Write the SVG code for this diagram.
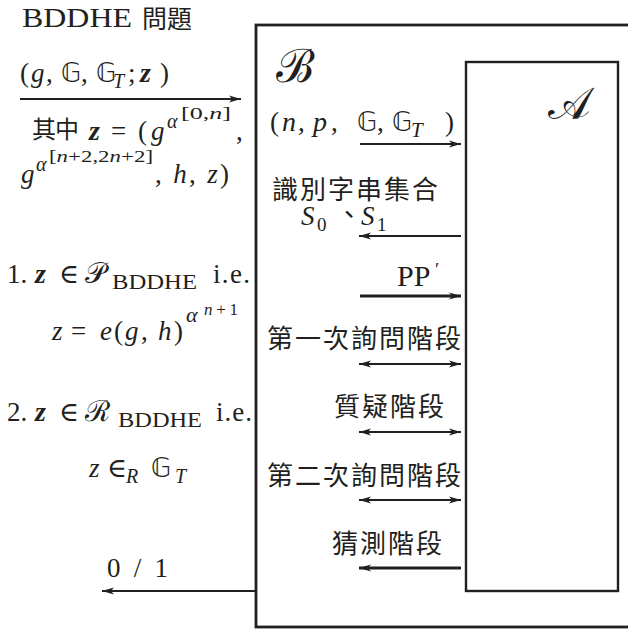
<svg xmlns="http://www.w3.org/2000/svg" width="628" height="633" viewBox="0 0 628 633">
<style>
.m{font-family:"Liberation Serif","DejaVu Serif",serif;font-size:27px;fill:#231f20}
.i{font-style:italic}
.b{font-weight:bold}
.cj{font-family:"Noto Sans CJK TC","Noto Sans CJK SC",sans-serif;font-size:26px;fill:#231f20;letter-spacing:2px}
.ds{font-family:"DejaVu Sans",sans-serif;font-size:26px;fill:#231f20}
.box{fill:none;stroke:#231f20}
.c{stroke:#231f20;stroke-width:2;fill:none}
.c3{stroke:#231f20;stroke-width:3;fill:none}
</style>
<defs>
<marker id="ah" markerUnits="userSpaceOnUse" markerWidth="13" markerHeight="8" refX="12" refY="4" orient="auto-start-reverse">
<path d="M0,0.5 L12,4 L0,7.5 L3,4 z" fill="#231f20"/>
</marker>
</defs>
<rect width="628" height="633" fill="#fff"/>

<g id="B">
<rect class="box" x="256" y="25" width="430" height="602" stroke-width="2.8"/>
<text class="m" x="276" y="82" style="font-size:46px">ℬ</text>
</g>
<g id="A">
<rect class="box" x="466" y="62" width="152" height="529" stroke-width="2.4"/>
<text class="m" x="548" y="119" style="font-size:45px">𝒜</text>
</g>

<g id="problem">
<text class="m" x="22" y="27" style="font-size:28px" textLength="110" lengthAdjust="spacingAndGlyphs">BDDHE</text>
<text class="cj" x="142" y="28" style="font-size:25px;letter-spacing:0">問題</text>

<text class="m" x="20" y="82">(</text>
<text class="m i" x="31" y="82">g</text>
<text class="m" x="46" y="82">,</text>
<text class="ds" x="61" y="82">𝔾</text>
<text class="m" x="81" y="82">,</text>
<text class="ds" x="96" y="82">𝔾</text>
<text class="m i" x="113" y="88" style="font-size:20px">T</text>
<text class="m" x="128" y="82">;</text>
<text class="m i b" x="140" y="82" style="font-size:28px">z</text>
<text class="m" x="160" y="82">)</text>

<text class="cj" x="32" y="138" style="font-size:24px;letter-spacing:-1px">其中</text>
<text class="m i b" x="89" y="140" style="font-size:28px">z</text>
<text class="m" x="111" y="140">=</text>
<text class="m" x="138" y="140">(</text>
<text class="m i" x="151" y="140">g</text>
<text class="m i" x="167" y="128" style="font-size:20px">α</text>
<text class="m" x="181" y="119" style="font-size:17px" textLength="50" lengthAdjust="spacingAndGlyphs">[0,<tspan class="i">n</tspan>]</text>
<text class="m" x="236" y="140">,</text>

<text class="m i" x="21" y="183">g</text>
<text class="m i" x="36" y="171" style="font-size:20px">α</text>
<text class="m" x="49" y="162" style="font-size:17px" textLength="104" lengthAdjust="spacingAndGlyphs">[<tspan class="i">n</tspan>+2,2<tspan class="i">n</tspan>+2]</text>
<text class="m" x="155" y="183" textLength="74" lengthAdjust="spacing">, <tspan class="i">h</tspan>, <tspan class="i">z</tspan>)</text>

<text class="m" x="7" y="283">1.</text>
<text class="m i b" x="35" y="283" style="font-size:28px">z</text>
<text class="m" x="59" y="283">∈</text>
<text class="m" x="85" y="283" style="font-size:29px">𝒫</text>
<text class="m" x="112" y="289" style="font-size:20px" textLength="85" lengthAdjust="spacingAndGlyphs">BDDHE</text>
<text class="m" x="213" y="283" textLength="37" lengthAdjust="spacing">i.e.</text>

<text class="m i" x="52" y="340">z</text>
<text class="m" x="71" y="340">=</text>
<text class="m i" x="100" y="340">e</text>
<text class="m" x="114" y="340">(</text>
<text class="m i" x="125" y="340">g</text>
<text class="m" x="141" y="340">,</text>
<text class="m i" x="158" y="340">h</text>
<text class="m" x="174" y="340">)</text>
<text class="m i" x="186" y="322" style="font-size:22px">α</text>
<text class="m" x="204" y="315" style="font-size:17px" textLength="34" lengthAdjust="spacing"><tspan class="i">n</tspan>+1</text>

<text class="m" x="7" y="421">2.</text>
<text class="m i b" x="35" y="421" style="font-size:28px">z</text>
<text class="m" x="59" y="421">∈</text>
<text class="m" x="85" y="421" style="font-size:29px">ℛ</text>
<text class="m" x="118" y="427" style="font-size:20px" textLength="84" lengthAdjust="spacingAndGlyphs">BDDHE</text>
<text class="m" x="216" y="421" textLength="36" lengthAdjust="spacing">i.e.</text>

<text class="m i" x="89" y="477">z</text>
<text class="m" x="107" y="477">∈</text>
<text class="m i" x="126" y="483" style="font-size:20px">R</text>
<text class="ds" x="151" y="477">𝔾</text>
<text class="m i" x="175" y="483" style="font-size:20px">T</text>

<text class="m" x="107" y="577" textLength="61" lengthAdjust="spacing">0 / 1</text>
</g>

<g id="labels">
<text class="m" x="270" y="131">(</text>
<text class="m i" x="282" y="131" style="font-size:28px">n</text>
<text class="m" x="298" y="131">,</text>
<text class="m i" x="313" y="131" style="font-size:28px">p</text>
<text class="m" x="331" y="131">,</text>
<text class="ds" x="357" y="131">𝔾</text>
<text class="m" x="377" y="131">,</text>
<text class="ds" x="392" y="131">𝔾</text>
<text class="m i" x="411" y="137" style="font-size:21px">T</text>
<text class="m" x="445" y="131">)</text>

<text class="cj" x="272" y="199">識別字串集合</text>
<text class="m i" x="301" y="225">S</text>
<text class="m" x="317" y="231" style="font-size:19px">0</text>
<text class="cj" x="336" y="224">、</text>
<text class="m i" x="361" y="225">S</text>
<text class="m" x="377" y="231" style="font-size:19px">1</text>

<text class="m" x="397" y="286" style="font-size:30px">PP</text>
<text class="m" x="435" y="276" style="font-size:19px">′</text>

<text class="cj" x="267" y="348">第一次詢問階段</text>
<text class="cj" x="334" y="416">質疑階段</text>
<text class="cj" x="267" y="485">第二次詢問階段</text>
<text class="cj" x="332" y="553">猜測階段</text>
</g>

<g id="connectors">
<line class="c" x1="20" y1="99" x2="241" y2="99" marker-end="url(#ah)"/>
<line class="c" x1="360" y1="144" x2="461" y2="144" marker-end="url(#ah)"/>
<line class="c" x1="461" y1="236" x2="359" y2="236" marker-end="url(#ah)"/>
<line class="c3" x1="360" y1="296" x2="461" y2="296" marker-end="url(#ah)"/>
<line class="c" x1="359" y1="364" x2="461" y2="364" marker-start="url(#ah)" marker-end="url(#ah)"/>
<line class="c" x1="359" y1="432" x2="461" y2="432" marker-start="url(#ah)" marker-end="url(#ah)"/>
<line class="c" x1="359" y1="500" x2="461" y2="500" marker-start="url(#ah)" marker-end="url(#ah)"/>
<line class="c3" x1="461" y1="568" x2="359" y2="568" marker-end="url(#ah)"/>
<line class="c" x1="256" y1="591" x2="102" y2="591" marker-end="url(#ah)"/>
</g>
</svg>
